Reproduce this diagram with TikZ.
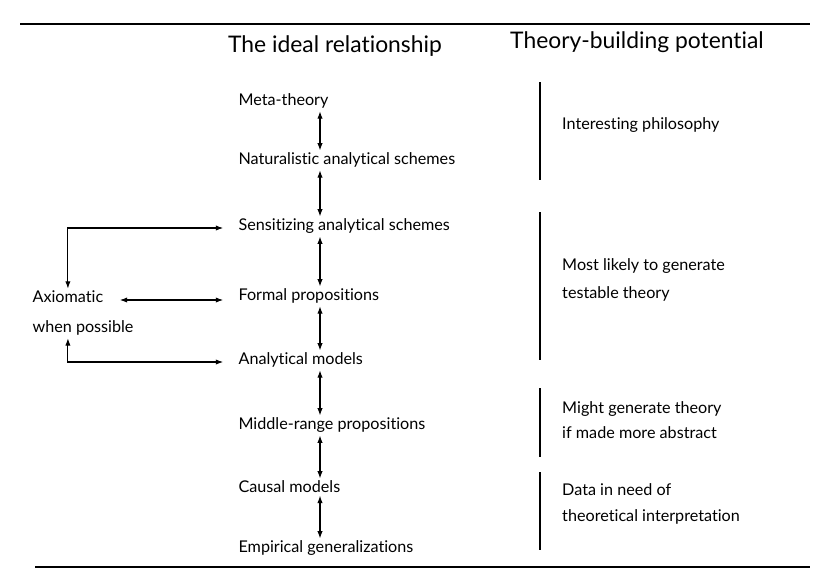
\documentclass[tikz,border=0pt]{standalone}
\usepackage{fontspec}
\setmainfont{Lato}[Ligatures=NoCommon]
\usetikzlibrary{arrows.meta, positioning}

\begin{document}
\begin{tikzpicture}[
        x=0.03cm, y=-0.03cm,
        level/.style={anchor=mid west, inner sep=2pt, font=\fontsize{13.8}{16}\selectfont},
        note/.style={anchor=west, align=left, inner sep=0pt, font=\fontsize{13.8}{22}\selectfont},
        heading/.style={font=\fontsize{19.5}{22}\selectfont},
        biarrow/.style={{Latex[length=2.2mm, width=1.6mm]}-{Latex[length=2.2mm, width=1.6mm]}, line width=0.9pt},
        bar/.style={line width=2.4pt},
        rule/.style={line width=1.4pt}
    ]
    \useasboundingbox (0,0) rectangle (827,581);

    % The rules and headings
    \draw [rule] (20,24) -- (810,24);
    \draw [rule] (35,567) -- (810,567);
    \node (ideal) [heading] at (335,46) {The ideal relationship};
    \node (potential) [heading] at (637,42) {Theory-building potential};

    % The levels of the ideal relationship
    \coordinate (axis) at (320,0);
    \node (meta) [level] at (236,103) {Meta-theory};
    \node (natural) [level] at (236,162) {Naturalistic analytical schemes};
    \node (sensitizing) [level] at (236,228) {Sensitizing analytical schemes};
    \node (formal) [level] at (236,298) {Formal propositions};
    \node (analytical) [level] at (236,362) {Analytical models};
    \node (middle) [level] at (236,427) {Middle-range propositions};
    \node (causal) [level] at (236,490) {Causal models};
    \node (empirical) [level] at (236,550) {Empirical generalizations};

    \node (axiom) [level] at (30,300) {Axiomatic};
    \node (possible) [level] at (30,330) {when possible};

    % The arrows between the levels
    \foreach \upper/\lower in {meta/natural, natural/sensitizing, sensitizing/formal, formal/analytical, analytical/middle, middle/causal, causal/empirical}
        \draw [biarrow] (\upper.south -| axis) -- (\lower.north -| axis);

    \draw [biarrow, shorten <=11pt] (sensitizing.mid west) -| (axiom.north);
    \draw [biarrow, shorten <=12pt, shorten >=11pt] (axiom.mid east) -- (formal.mid west |- axiom.mid east);
    \draw [biarrow, shorten >=11pt] (possible.south -| axiom.north) |- (analytical.mid west);

    % The theory-building potential
    \foreach \top/\bottom in {82/180, 212/360, 388/457, 472/550}
        \draw [bar] (540,\top) -- (540,\bottom);

    \node (philosophy) [note] at (562,125) {Interesting philosophy};
    \node (testable) [note] at (562,280) {Most likely to generate\\[2pt]testable theory};
    \node (abstract) [note] at (562,420) {Might generate theory\\if made more abstract};
    \node (interpretation) [note] at (562,504) {Data in need of\\theoretical interpretation};

\end{tikzpicture}
\end{document}
